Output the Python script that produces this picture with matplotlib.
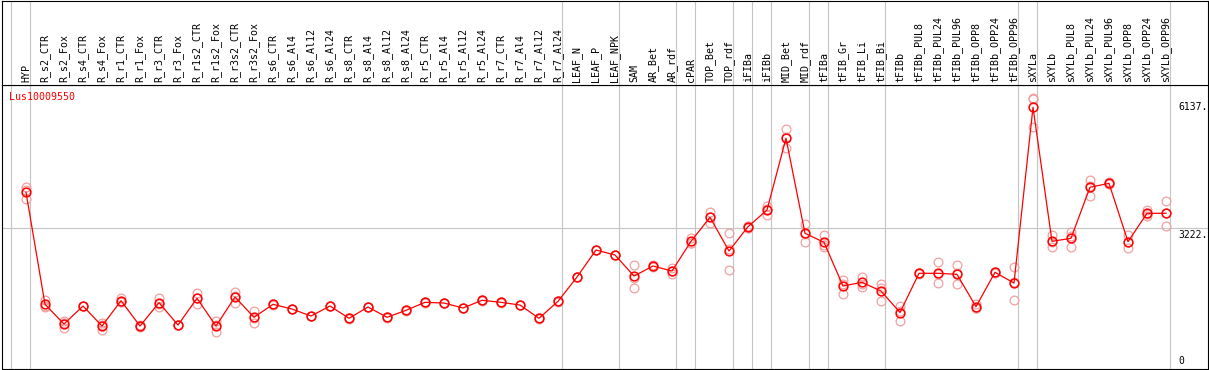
import numpy as np
import matplotlib
matplotlib.use("Agg")
import matplotlib.pyplot as plt

# sample names (one column each)
samples = ["HYP", "R_s2_CTR", "R_s2_Fox", "R_s4_CTR", "R_s4_Fox", "R_r1_CTR", "R_r1_Fox",
           "R_r3_CTR", "R_r3_Fox", "R_r1s2_CTR", "R_r1s2_Fox", "R_r3s2_CTR", "R_r3s2_Fox",
           "R_s6_CTR", "R_s6_Al4", "R_s6_Al12", "R_s6_Al24", "R_s8_CTR", "R_s8_Al4",
           "R_s8_Al12", "R_s8_Al24", "R_r5_CTR", "R_r5_Al4", "R_r5_Al12", "R_r5_Al24",
           "R_r7_CTR", "R_r7_Al4", "R_r7_Al12", "R_r7_Al24", "LEAF_N", "LEAF_P", "LEAF_NPK",
           "SAM", "AR_Bet", "AR_rdf", "cPAR", "TOP_Bet", "TOP_rdf", "iFIBa", "iFIBb",
           "MID_Bet", "MID_rdf", "tFIBa", "tFIB_Gr", "tFIB_Li", "tFIB_Bi", "tFIBb",
           "tFIBb_PUL8", "tFIBb_PUL24", "tFIBb_PUL96", "tFIBb_OPP8", "tFIBb_OPP24",
           "tFIBb_OPP96", "sXYLa", "sXYLb", "sXYLb_PUL8", "sXYLb_PUL24", "sXYLb_PUL96",
           "sXYLb_OPP8", "sXYLb_OPP24", "sXYLb_OPP96"]

# mean expression per sample
means = [4084, 1379, 903, 1338, 855, 1466, 855, 1418, 879, 1524, 855, 1555, 1065,
         1379, 1265, 1096, 1338, 1041, 1314, 1065, 1234, 1427, 1410, 1290, 1476,
         1427, 1362, 1041, 1451, 2038, 2690, 2570, 2062, 2304, 2183, 2900, 3480,
         2666, 3253, 3656, 5388, 3094, 2876, 1821, 1910, 1700, 1181, 2128, 2128,
         2103, 1321, 2152, 1893, 6137, 2900, 2973, 4205, 4301, 2891, 3577, 3577]

# replicate values (three per sample)
rep1 = [4219, 1483, 976, 1330, 935, 1524, 879, 1538, 870, 1645, 976, 1676, 1217,
        1390, 1275, 1106, 1348, 1051, 1324, 1075, 1244, 1437, 1420, 1300, 1486,
        1437, 1372, 1051, 1461, 2048, 2700, 2580, 2328, 2273, 2263, 2980, 3615,
        3094, 3277, 3760, 5605, 3318, 3053, 1966, 2045, 1869, 1338, 2110, 2393,
        2321, 1386, 2166, 2287, 6354, 3053, 3132, 4381, 4340, 3053, 3656, 3874]
rep2 = [4139, 1307, 814, 1338, 758, 1442, 824, 1321, 879, 1386, 717, 1418, 935,
        1370, 1255, 1086, 1330, 1031, 1305, 1055, 1224, 1417, 1400, 1280, 1466,
        1417, 1352, 1031, 1441, 2028, 2680, 2560, 2007, 2300, 2111, 2852, 3335,
        2200, 3214, 3536, 5146, 2891, 2770, 1620, 1804, 1459, 988, 2128, 1886,
        1862, 1297, 2140, 1476, 6330, 2756, 2770, 4002, 4280, 2746, 3511, 3277]
rep3 = [3915, 1347, 919, 1346, 872, 1432, 862, 1395, 888, 1541, 872, 1571, 1043,
        1379, 1265, 1096, 1338, 1041, 1314, 1065, 1234, 1427, 1410, 1290, 1476,
        1427, 1362, 1041, 1451, 2038, 2690, 2570, 1765, 2340, 2175, 2868, 3490,
        2704, 3268, 3672, 5413, 3073, 2805, 1877, 1881, 1772, 1217, 2146, 2105,
        2126, 1280, 2150, 1916, 5668, 2891, 3017, 4232, 4283, 2874, 3564, 3580]

# column boundaries with a vertical grid line (index of the column to the right)
group_starts = [0, 1, 29, 32, 35, 36, 38, 39, 40, 42, 43, 46, 53, 54, 61]
y_marks = [6137, 3222, 0]

W, H = 1209, 370
fig = plt.figure(figsize=(W / 100, H / 100), dpi=100)
mono = "DejaVu Sans Mono"

ax = fig.add_axes([2 / W, 1 / H, 1206 / W, 284 / H])
hdr = fig.add_axes([2 / W, 285 / H, 1206 / W, 84.5 / H], sharex=ax)

x = np.arange(len(samples))
ax.set_xlim(-24 / 19, 1182 / 19)
ax.set_ylim(-183, 6675)
hdr.set_ylim(0, 1)

for a in (ax, hdr):
    a.set_xticks([])
    a.set_yticks([])
    for s in a.spines.values():
        s.set_linewidth(0.8)
        s.set_color("black")
    for g in group_starts:
        a.axvline(g - 15 / 19, color="#c4c4c4", lw=0.8, zorder=0)

ax.axhline(3222, color="#c4c4c4", lw=0.8, zorder=0)

# replicates
for r in (rep1, rep2, rep3):
    ax.plot(x, r, ls="none", marker="o", ms=6.3, mfc="none", mec="#f0a0a0",
            mew=0.9, zorder=2)
# mean
ax.plot(x, means, color="red", lw=0.9, marker="o", ms=6.3, mfc="none",
        mec="red", mew=1.1, zorder=3)

# sample labels in header
for i, name in enumerate(samples):
    hdr.text(i, 3 / 85, name, rotation=90, ha="center", va="bottom",
             fontsize=7.2, family=mono, color="black")

# value labels on the right
for v in y_marks:
    va = "top" if v == 3222 else "center"
    ax.text((1178 - 26) / 19, v - (40 if v == 3222 else 0), f"{v}." if v else "0",
            ha="left", va=va, fontsize=7.0, family=mono, color="black")

fig.text(9.5 / W, 1 - 97.5 / H, "Lus10009550", ha="left", va="center",
         fontsize=7.2, family=mono, color="red")

fig.savefig("out.png", dpi=100)
